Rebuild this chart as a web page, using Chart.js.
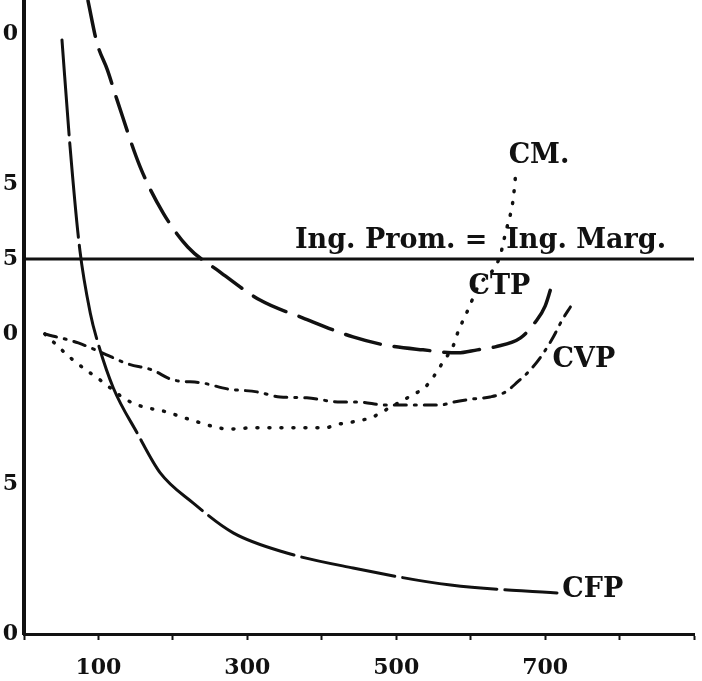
<!DOCTYPE html>
<html>
<head>
<meta charset="utf-8">
<title>Costos</title>
<script src="https://cdn.jsdelivr.net/npm/chart.js@4.4.1/dist/chart.umd.min.js"></script>
<style>
  html, body { margin: 0; padding: 0; background: #fff; }
  #wrap { width: 702px; height: 681px; position: relative; }
</style>
</head>
<body>
<div id="wrap"><canvas id="costs"></canvas></div>
<script>
// values (x = quantity, y = cost)
const cfpX = [51, 62, 75, 89, 99, 120, 152, 183, 227, 281, 353, 442, 573, 716];
const cfpY = [19.8, 16.2, 12.8, 10.7, 9.73, 8.2, 6.7, 5.37, 4.37, 3.37, 2.7, 2.2, 1.63, 1.37];

const ctpX = [86, 98, 112, 125, 156, 187, 220, 263, 317, 375, 442, 485, 536, 583, 609, 633, 667, 687, 700, 711];
const ctpY = [21.1, 19.7, 18.8, 17.8, 15.57, 14.03, 12.9, 12.07, 11.13, 10.53, 9.9, 9.63, 9.47, 9.37, 9.47, 9.57, 9.87, 10.4, 10.93, 11.8];

const cvpX = [28, 73, 105, 140, 172, 200, 239, 273, 313, 344, 380, 425, 449, 485, 526, 559, 577, 602, 626, 647, 663, 680, 696, 711, 723, 734];
const cvpY = [10.0, 9.7, 9.37, 9.0, 8.8, 8.47, 8.37, 8.17, 8.07, 7.9, 7.87, 7.73, 7.73, 7.63, 7.63, 7.63, 7.73, 7.83, 7.9, 8.07, 8.4, 8.8, 9.3, 9.9, 10.47, 10.9];

const cmX = [28, 66, 89, 102, 138, 160, 187, 220, 257, 274, 308, 348, 378, 405, 418, 442, 468, 495, 522, 539, 550, 563, 577, 583, 594, 602, 609, 640, 644, 649, 657, 661];
const cmY = [10.0, 9.13, 8.7, 8.47, 7.8, 7.57, 7.43, 7.17, 6.9, 6.83, 6.87, 6.87, 6.87, 6.87, 6.97, 7.07, 7.23, 7.6, 7.97, 8.23, 8.57, 9.07, 9.63, 10.07, 10.67, 11.13, 11.53, 12.63, 13.07, 13.57, 14.47, 15.47];

const priceLevel = 12.5;
const priceX = [0, 900];

const xTickLabels = [100, 300, 500, 700];
const yTickValues = [0, 5, 10, 12.5, 15, 20];
const yTickLabels = ['0', '5', '0', '5', '5', '0'];

const curveNames = ['CFP', 'CVP', 'CTP', 'CM.'];
const curveNameX = [723, 710, 597, 651];
const curveNameY = [1.47, 9.13, 11.57, 15.93];
const priceText = 'Ing. Prom. =  Ing. Marg.';
const priceTextX = 364;
const priceTextY = 12.87;

const INK = '#111';
const SERIF = '"DejaVu Serif", "Liberation Serif", serif';

function toPoints(xs, ys) {
  return xs.map((x, i) => ({ x: x, y: ys[i] }));
}

function curve(label, xs, ys, dash, width) {
  return {
    label: label,
    data: toPoints(xs, ys),
    borderColor: INK,
    borderWidth: width,
    borderDash: dash,
    borderCapStyle: 'round',
    pointRadius: 0,
    fill: false,
    tension: 0.4,
    cubicInterpolationMode: 'monotone'
  };
}

/** Writes the curve names and the price line caption */
const labelPlugin = {
  id: 'curveLabels',
  afterDatasetsDraw(chart) {
    const { ctx, scales } = chart;
    ctx.save();
    ctx.fillStyle = INK;
    ctx.textAlign = 'left';
    ctx.font = 'bold 27px ' + SERIF;
    ctx.textBaseline = 'middle';
    curveNames.forEach((name, i) => {
      ctx.fillText(name, scales.x.getPixelForValue(curveNameX[i]), scales.y.getPixelForValue(curveNameY[i]));
    });
    ctx.textBaseline = 'alphabetic';
    ctx.fillText(priceText, scales.x.getPixelForValue(priceTextX), scales.y.getPixelForValue(priceTextY));
    ctx.restore();
  }
};

const ctx = document.getElementById('costs').getContext('2d');
new Chart(ctx, {
  type: 'line',
  data: {
    datasets: [
      curve('CFP', cfpX, cfpY, [95, 8], 3),
      curve('CTP', ctpX, ctpY, [36, 14], 3.5),
      curve('CVP', cvpX, cvpY, [12, 8, 2, 8], 3),
      curve('CM', cmX, cmY, [1, 11], 3.5),
      {
        label: 'Ing',
        data: priceX.map(x => ({ x: x, y: priceLevel })),
        borderColor: INK,
        borderWidth: 3,
        pointRadius: 0,
        fill: false
      }
    ]
  },
  options: {
    responsive: true,
    maintainAspectRatio: false,
    animation: false,
    layout: { padding: { left: 0, right: 8, top: 0, bottom: 0 } },
    plugins: {
      legend: { display: false },
      tooltip: { enabled: false }
    },
    scales: {
      x: {
        type: 'linear',
        min: 0,
        max: 900,
        afterFit: scale => { scale.height = 47; scale.paddingRight = 0; },
        border: { display: true, color: INK, width: 3 },
        grid: { display: true, drawOnChartArea: false, drawTicks: true, tickLength: 6, tickWidth: 2, tickColor: INK },
        ticks: {
          stepSize: 100,
          autoSkip: false,
          maxRotation: 0,
          padding: 15,
          color: INK,
          font: { family: SERIF, size: 22, weight: 'bold' },
          callback: value => xTickLabels.includes(value) ? String(value) : ''
        }
      },
      y: {
        type: 'linear',
        min: 0,
        max: 21.13,
        afterFit: scale => { scale.width = 24; scale.paddingTop = 0; scale.paddingBottom = 0; },
        afterBuildTicks: scale => { scale.ticks = yTickValues.map(v => ({ value: v })); },
        border: { display: true, color: INK, width: 4 },
        grid: { display: false, drawTicks: false },
        ticks: {
          padding: 6,
          color: INK,
          font: { family: SERIF, size: 22, weight: 'bold' },
          callback: (value, index) => yTickLabels[index]
        }
      }
    }
  },
  plugins: [labelPlugin]
});
</script>
</body>
</html>
